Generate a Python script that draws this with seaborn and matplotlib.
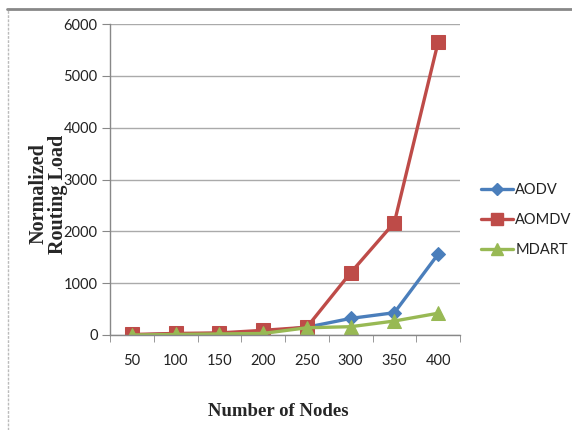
import matplotlib
matplotlib.use("Agg")
import matplotlib.pyplot as plt
from matplotlib.lines import Line2D
import numpy as np
import pandas as pd
import seaborn as sns

# Simulation results: normalized routing load versus network size
nodes = [50, 100, 150, 200, 250, 300, 350, 400]
aodv = [0, 20, 30, 60, 150, 320, 430, 1560]
aomdv = [10, 30, 40, 90, 150, 1200, 2170, 5650]
mdart = [0, 10, 20, 30, 140, 160, 270, 420]
protocols = ["AODV", "AOMDV", "MDART"]
colors = ["#4A7EBB", "#BE4B48", "#98B954"]
markers = ["D", "s", "^"]
marker_sizes = [7, 10, 10]

pos = np.arange(len(nodes))
df = pd.concat([
    pd.DataFrame({"pos": pos, "load": vals, "protocol": name})
    for name, vals in zip(protocols, [aodv, aomdv, mdart])
])

sns.set_style("white")
plt.rcParams["font.family"] = ["Lato", "DejaVu Sans"]

fig = plt.figure(figsize=(5.72, 4.30), dpi=100)
ax = fig.add_axes([110 / 572, 1 - 335 / 430, 350 / 572, 311 / 430])

for name, col, mk, ms in zip(protocols, colors, markers, marker_sizes):
    sub = df[df["protocol"] == name]
    sns.lineplot(data=sub, x="pos", y="load", ax=ax, color=col, marker=mk,
                 markersize=ms, markeredgecolor=col, linewidth=2.4,
                 label=name, legend=False)

ax.set_xlim(-0.5, len(nodes) - 0.5)
ax.set_ylim(0, 6000)
ax.set_yticks(np.arange(0, 6001, 1000))
ax.set_xticks(pos)
ax.set_xticklabels([str(n) for n in nodes])
ax.set_xticks(np.arange(-0.5, len(nodes), 1), minor=True)
ax.tick_params(axis="x", which="major", length=0, pad=14,
               labelsize=10.5, labelcolor="#222222")
ax.tick_params(axis="x", which="minor", length=5, color="#888888",
               direction="out", bottom=True)
ax.tick_params(axis="y", length=6, color="#888888", direction="out",
               left=True, labelsize=10.5, labelcolor="#222222", pad=3)
ax.yaxis.grid(True, color="#AAAAAA", linewidth=1.0)
ax.set_axisbelow(True)
for side in ["top", "right"]:
    ax.spines[side].set_visible(False)
for side in ["left", "bottom"]:
    ax.spines[side].set_color("#888888")
    ax.spines[side].set_linewidth(1.0)
ax.set_xlabel("")
ax.set_ylabel("")

serif = ["Liberation Serif", "DejaVu Serif"]
fig.text(48 / 572, 1 - 194 / 430, "Normalized\nRouting Load", rotation=90,
         ha="center", va="center", fontsize=14.5, fontweight="bold",
         family=serif, linespacing=0.95, multialignment="center")
fig.text(278 / 572, 1 - 412 / 430, "Number of Nodes", ha="center",
         va="center", fontsize=13.5, fontweight="bold", family=serif)

handles = [Line2D([0], [0], color=c, marker=m, markersize=s * 0.9,
                  markeredgecolor=c, linewidth=2.4)
           for c, m, s in zip(colors, markers, marker_sizes)]
fig.legend(handles, protocols, loc="center left",
           bbox_to_anchor=(468 / 572, 1 - 220 / 430), frameon=False,
           fontsize=10.5, handlelength=2.2, handletextpad=0.15,
           labelspacing=1.1, labelcolor="#222222")

# outer frame
fig.add_artist(Line2D([7 / 572, 1.0], [1 - 8.5 / 430] * 2,
                      color="#888888", linewidth=2))
fig.add_artist(Line2D([7.5 / 572] * 2, [0, 1 - 8.5 / 430],
                      color="#BBBBBB", linewidth=1, linestyle=(0, (2, 1))))

fig.savefig("out.png", dpi=100)
